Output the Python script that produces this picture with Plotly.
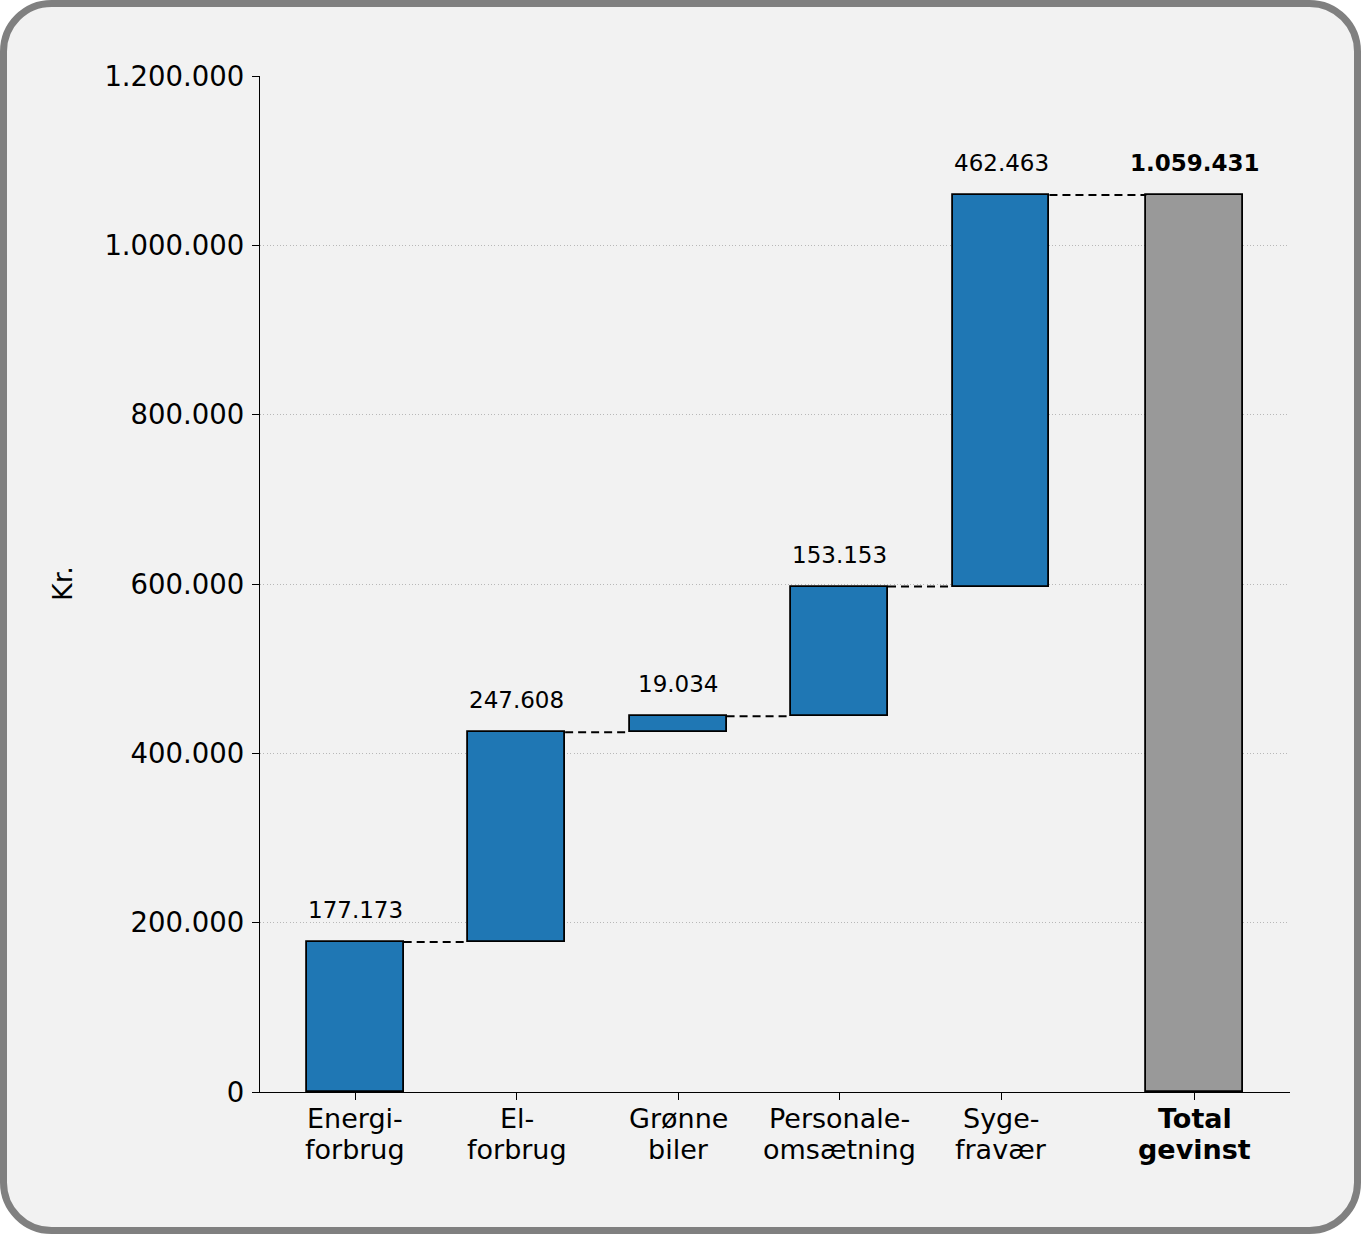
import plotly.graph_objects as go

categories = ["Energi-<br>forbrug", "El-<br>forbrug", "Grønne<br>biler",
              "Personale-<br>omsætning", "Syge-<br>fravær", "<b>Total<br>gevinst</b>"]
values = [177173, 247608, 19034, 153153, 462463]
total = 1059431
positions = [0, 1, 2, 3, 4, 5.2]
tick_values = [0, 200000, 400000, 600000, 800000, 1000000, 1200000]
tick_labels = ["0", "200.000", "400.000", "600.000", "800.000", "1.000.000", "1.200.000"]
bar_labels = ["177.173", "247.608", "19.034", "153.153", "462.463"]
total_label = "1.059.431"

W, H = 1361, 1234
L, R, T, B = 260, 71, 76, 142
PW, PH = W - L - R, H - T - B

def px(x):
    return (x - L) / PW

def py(y):
    return (H - B - y) / PH

bases = []
cum = 0
for v in values:
    bases.append(cum)
    cum += v

fig = go.Figure()
fig.add_trace(go.Bar(
    x=positions[:5], y=values, base=bases, width=0.6,
    marker=dict(color="#1f77b4", line=dict(color="black", width=1.8)),
    hoverinfo="skip", showlegend=False))
fig.add_trace(go.Bar(
    x=[positions[5]], y=[total], base=[0], width=0.6,
    marker=dict(color="#999999", line=dict(color="black", width=1.8)),
    hoverinfo="skip", showlegend=False))

# connectors
cx, cy = [], []
tops = [b + v for b, v in zip(bases, values)]
for i in range(5):
    cx += [positions[i] + 0.3, positions[i + 1] - 0.3, None]
    cy += [tops[i], tops[i], None]
fig.add_trace(go.Scatter(x=cx, y=cy, mode="lines",
                         line=dict(color="black", width=2, dash="8px,5px"),
                         hoverinfo="skip", showlegend=False))

ann = []
for i in range(5):
    ann.append(dict(x=positions[i], y=tops[i], xref="x", yref="y", text=bar_labels[i],
                    showarrow=False, yanchor="bottom", yshift=17,
                    font=dict(family="DejaVu Sans", size=23, color="black")))
ann.append(dict(x=positions[5], y=total, xref="x", yref="y", text="<b>" + total_label + "</b>",
                showarrow=False, yanchor="bottom", yshift=17,
                font=dict(family="DejaVu Sans", size=23, color="black")))
ann.append(dict(x=px(62), y=0.5, xref="paper", yref="paper", text="Kr.",
                textangle=-90, showarrow=False, xanchor="center", yanchor="middle",
                font=dict(family="DejaVu Sans", size=27, color="black")))

# category labels, one annotation per line
for pos, cat in zip(positions, categories):
    bold = cat.startswith("<b>")
    lines = cat.replace("<b>", "").replace("</b>", "").split("<br>")
    for line, ypix in zip(lines, [1118, 1149]):
        ann.append(dict(x=pos, y=py(ypix), xref="x", yref="paper",
                        text=("<b>" + line + "</b>") if bold else line,
                        showarrow=False, xanchor="center", yanchor="middle",
                        font=dict(family="DejaVu Sans", size=27, color="black")))

# rounded border in paper coords
ins = 3.5
r = 48
x0, x1, y0, y1 = ins, W - ins, ins, H - ins
k = 0.5523 * r
pts = [
    f"M {px(x0 + r)},{py(y0)}",
    f"L {px(x1 - r)},{py(y0)}",
    f"C {px(x1 - r + k)},{py(y0)} {px(x1)},{py(y0 + r - k)} {px(x1)},{py(y0 + r)}",
    f"L {px(x1)},{py(y1 - r)}",
    f"C {px(x1)},{py(y1 - r + k)} {px(x1 - r + k)},{py(y1)} {px(x1 - r)},{py(y1)}",
    f"L {px(x0 + r)},{py(y1)}",
    f"C {px(x0 + r - k)},{py(y1)} {px(x0)},{py(y1 - r + k)} {px(x0)},{py(y1 - r)}",
    f"L {px(x0)},{py(y0 + r)}",
    f"C {px(x0)},{py(y0 + r - k)} {px(x0 + r - k)},{py(y0)} {px(x0 + r)},{py(y0)}",
    "Z",
]
shapes = [dict(type="path", xref="paper", yref="paper", path=" ".join(pts),
               fillcolor="#f2f2f2", line=dict(color="#808080", width=7), layer="below")]

fig.update_layout(
    width=W, height=H,
    margin=dict(l=L, r=R, t=T, b=B),
    paper_bgcolor="white", plot_bgcolor="rgba(0,0,0,0)",
    font=dict(family="DejaVu Sans", size=27, color="black"),
    shapes=shapes, annotations=ann, bargap=0,
    xaxis=dict(range=[-0.59, 5.79], tickvals=positions, ticktext=[""] * len(positions),
               showline=True, linecolor="black", linewidth=1.3,
               ticks="outside", ticklen=7, tickwidth=1.3, tickcolor="black",
               showgrid=False, zeroline=False, tickfont=dict(size=27)),
    yaxis=dict(range=[0, 1200000], tickvals=tick_values, ticktext=tick_labels,
               showline=True, linecolor="black", linewidth=1.3,
               ticks="outside", ticklen=7, tickwidth=1.3, tickcolor="black",
               showgrid=True, gridcolor="#b8b8b8", gridwidth=1, griddash="1px,2.3px",
               zeroline=False, tickfont=dict(size=27.5), ticklabelstandoff=2),
)

fig.write_html("out.html", config={"displayModeBar": False},
               post_script="document.body.style.margin='0';document.body.style.overflow='hidden';")
